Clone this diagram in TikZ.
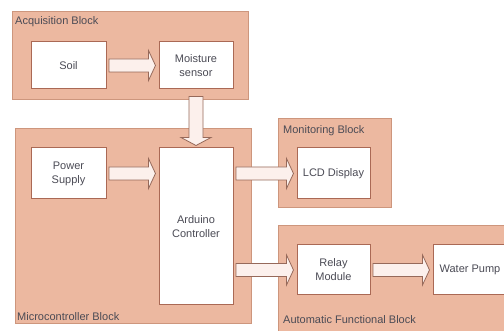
\documentclass[tikz,border=0pt]{standalone}
\usepackage{fontspec}
\setmainfont{Liberation Sans}
\usetikzlibrary{calc}
\definecolor{blockfill}{RGB}{236,184,160}
\definecolor{blockline}{RGB}{205,150,125}
\definecolor{boxline}{RGB}{170,105,85}
\definecolor{txt}{RGB}{75,75,85}
\definecolor{arrfill}{RGB}{252,240,236}
\definecolor{arrline}{RGB}{150,105,90}
\tikzset{
  blockbg/.style={fill=blockfill,draw=blockline,line width=1pt},
  unitbox/.style={draw=boxline,fill=white,line width=1pt,text=txt,align=center,
    font=\fontsize{11}{14}\selectfont,inner sep=0pt},
  blocklabel/.style={text=txt,font=\fontsize{11}{13}\selectfont,inner sep=0pt,anchor=west},
  blockarrow/.style={fill=arrfill,draw=arrline,line width=0.8pt,line join=miter}
}
\newcommand{\harr}[2]{%
  \path[blockarrow] let \p1=(#1), \p2=(#2) in
    (\x1+2.5pt,\y2+6.5pt) -- (\x2-10pt,\y2+6.5pt) -- (\x2-10pt,\y2+15pt) --
    (\x2-3pt,\y2) -- (\x2-10pt,\y2-15pt) -- (\x2-10pt,\y2-6.5pt) --
    (\x1+2.5pt,\y2-6.5pt) -- cycle;}
\newcommand{\varr}[2]{%
  \path[blockarrow] let \p1=(#1), \p2=(#2) in
    (\x2-7pt,\y1-7pt) -- (\x2-7pt,\y2+10pt) -- (\x2-15pt,\y2+10pt) --
    (\x2,\y2+2pt) -- (\x2+15pt,\y2+10pt) -- (\x2+7pt,\y2+10pt) --
    (\x2+7pt,\y1-7pt) -- cycle;}
\begin{document}
\begin{tikzpicture}[x=1pt,y=-1pt]
\useasboundingbox (0,0) rectangle (504,331);
\clip (0,0) rectangle (504,331);
\fill[white] (0,0) rectangle (504,331);
% blocks
\draw[blockbg] (12,12) rectangle (248,100);
\draw[blockbg] (15,129) rectangle (251,324);
\draw[blockbg] (278,119) rectangle (391,208);
\draw[blockbg] (278,226) rectangle (530,340);
\node[blocklabel] (lacq) at (15,22) {Acquisition Block};
\node[blocklabel] (lmic) at (17,317) {Microcontroller Block};
\node[blocklabel] (lmon) at (283,131) {Monitoring Block};
\node[blocklabel] (laut) at (283,320) {Automatic Functional Block};
% units
\node[unitbox,minimum width=75pt,minimum height=47pt] (soil) at (68.5,65.5) {Soil};
\node[unitbox,minimum width=74pt,minimum height=47pt] (moist) at (196,65.5) {Moisture\\sensor};
\node[unitbox,minimum width=75pt,minimum height=51pt] (ps) at (68.5,173.5) {Power\\Supply};
\node[unitbox,minimum width=74pt,minimum height=157pt] (ard) at (196,226.5) {Arduino\\Controller};
\node[unitbox,minimum width=73pt,minimum height=51pt] (lcd) at (333.5,173.5) {LCD Display};
\node[unitbox,minimum width=73pt,minimum height=50pt] (relay) at (333.5,270) {Relay\\Module};
\node[unitbox,minimum width=74pt,minimum height=50pt] (pump) at (470,270) {Water Pump};
% arrows
\harr{soil.east}{moist.west}
\harr{ps.east}{ard.west |- ps.east}
\harr{ard.east |- lcd.west}{lcd.west}
\harr{ard.east |- relay.west}{relay.west}
\harr{relay.east}{pump.west}
\varr{moist.south}{ard.north -| moist.south}
\end{tikzpicture}
\end{document}
